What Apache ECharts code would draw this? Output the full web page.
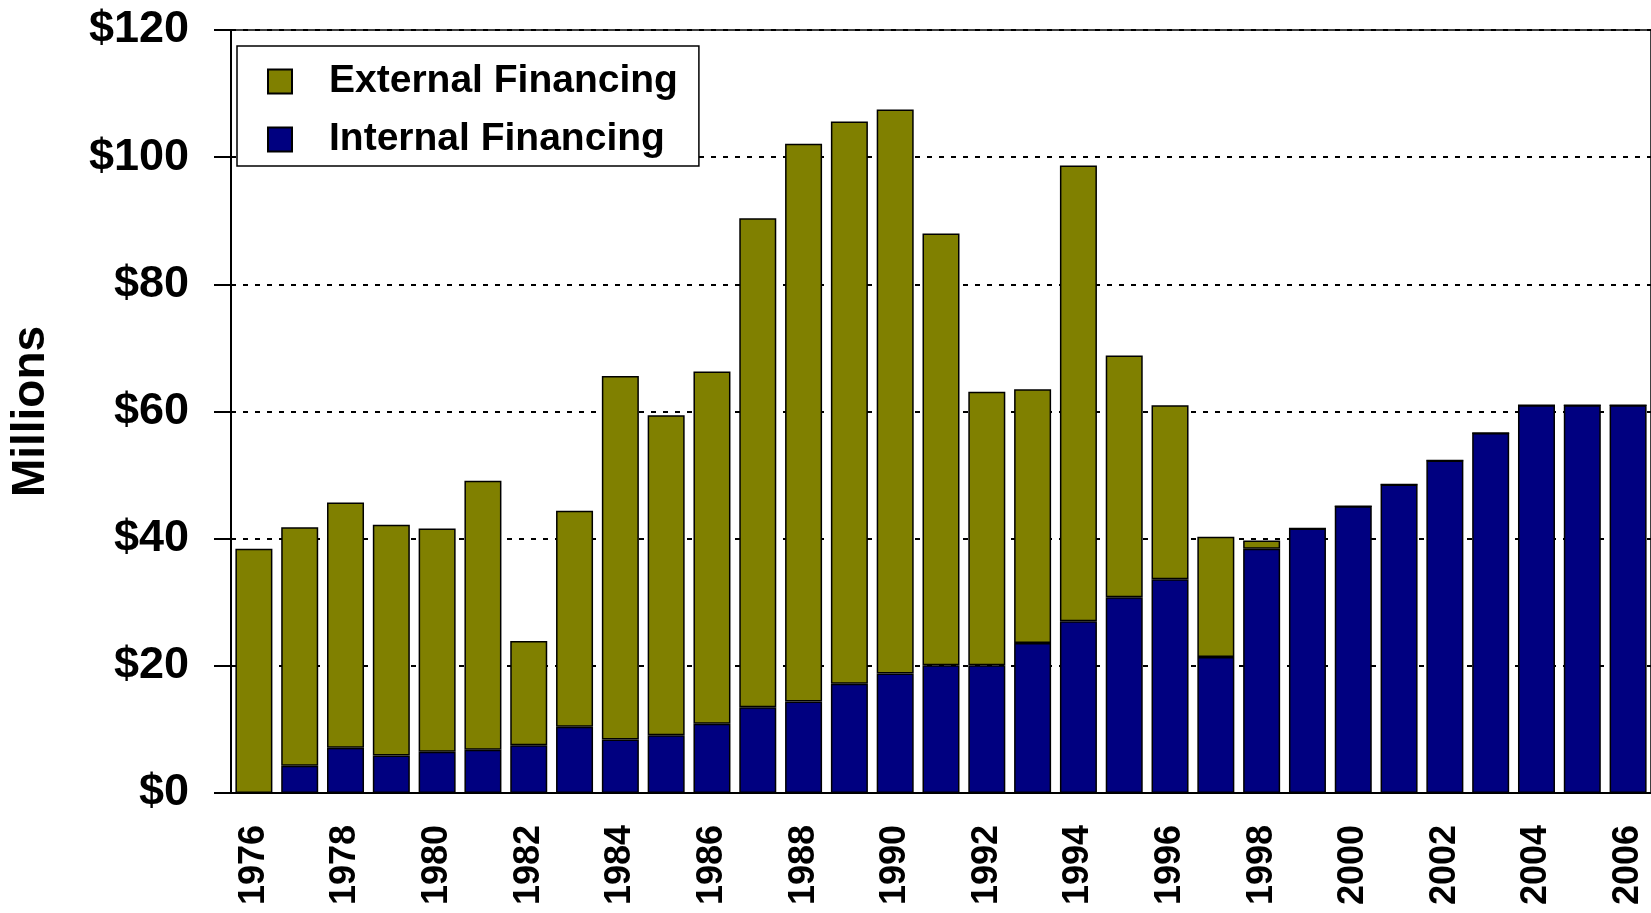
<!DOCTYPE html>
<html>
<head>
<meta charset="utf-8">
<script src="https://cdn.jsdelivr.net/npm/echarts@6/dist/echarts.min.js"></script>
<style>
html,body{margin:0;padding:0;background:#fff;}
#chart{width:1651px;height:913px;}
</style>
</head>
<body>
<div id="chart"></div>
<script>
const years = ['1976','1977','1978','1979','1980','1981','1982','1983','1984','1985','1986','1987','1988','1989','1990','1991','1992','1993','1994','1995','1996','1997','1998','1999','2000','2001','2002','2003','2004','2005','2006'];
const internalFinancing = [0,4.3,7.1,5.9,6.5,6.8,7.5,10.4,8.4,9.1,10.9,13.5,14.4,17.2,18.8,20.1,20.1,23.6,27.0,30.8,33.6,21.4,38.4,41.6,45.1,48.5,52.3,56.6,61.0,61.0,61.0];
const externalFinancing = [38.4,37.5,38.6,36.3,35.1,42.3,16.4,34.0,57.2,50.3,55.4,76.9,87.7,88.4,88.7,67.9,43.0,39.9,71.7,38.0,27.4,18.9,1.3,0,0,0,0,0,0,0,0];
const yTicks = [0,20,40,60,80,100,120];
const seriesNames = ['External Financing','Internal Financing'];

const FONT = '"Liberation Sans", Arial, sans-serif';
const chart = echarts.init(document.getElementById('chart'), null, {renderer:'canvas'});
chart.setOption({
  backgroundColor:'#fff',
  animation:false,
  grid:{left:225.5, right:-9, top:30, bottom:120, show:true, borderColor:'#000', borderWidth:1.5, backgroundColor:'transparent'},
  legend:{
    data:seriesNames, orient:'vertical', left:237, top:46,
    backgroundColor:'#fff', borderColor:'#000', borderWidth:1.5,
    padding:[16,21,7,30], itemWidth:24, itemHeight:24, itemGap:19,
    icon:'rect',
    textStyle:{fontFamily:FONT, fontWeight:'bold', fontSize:39, color:'#000', lineHeight:38, padding:[0,0,0,32]}
  },
  xAxis:{
    type:'category', data:years, boundaryGap:true,
    axisLine:{lineStyle:{color:'#000', width:2}},
    axisTick:{show:false},
    axisLabel:{interval:1, rotate:90, margin:32, fontFamily:FONT, fontWeight:'bold', fontSize:36, color:'#000'}
  },
  yAxis:{
    type:'value', min:yTicks[0], max:yTicks[yTicks.length-1], interval:20,
    name:'Millions', nameLocation:'middle', nameGap:177, nameRotate:90,
    nameTextStyle:{fontFamily:FONT, fontWeight:'bold', fontSize:46, color:'#000'},
    axisLine:{show:true, lineStyle:{color:'#000', width:2}},
    axisTick:{show:true, inside:false, length:17, lineStyle:{color:'#000', width:2}},
    axisLabel:{margin:42, fontFamily:FONT, fontWeight:'bold', fontSize:45, color:'#000', formatter:v => '$' + v},
    splitLine:{show:true, lineStyle:{color:'#000', width:2, type:[5,7]}}
  },
  series:[
    {name:seriesNames[1], type:'bar', stack:'total', data:internalFinancing, barWidth:37,
     itemStyle:{color:'#000080', borderColor:'#000', borderWidth:1.5}},
    {name:seriesNames[0], type:'bar', stack:'total', data:externalFinancing, barWidth:37,
     itemStyle:{color:'#808000', borderColor:'#000', borderWidth:1.5}}
  ]
});
</script>
</body>
</html>
